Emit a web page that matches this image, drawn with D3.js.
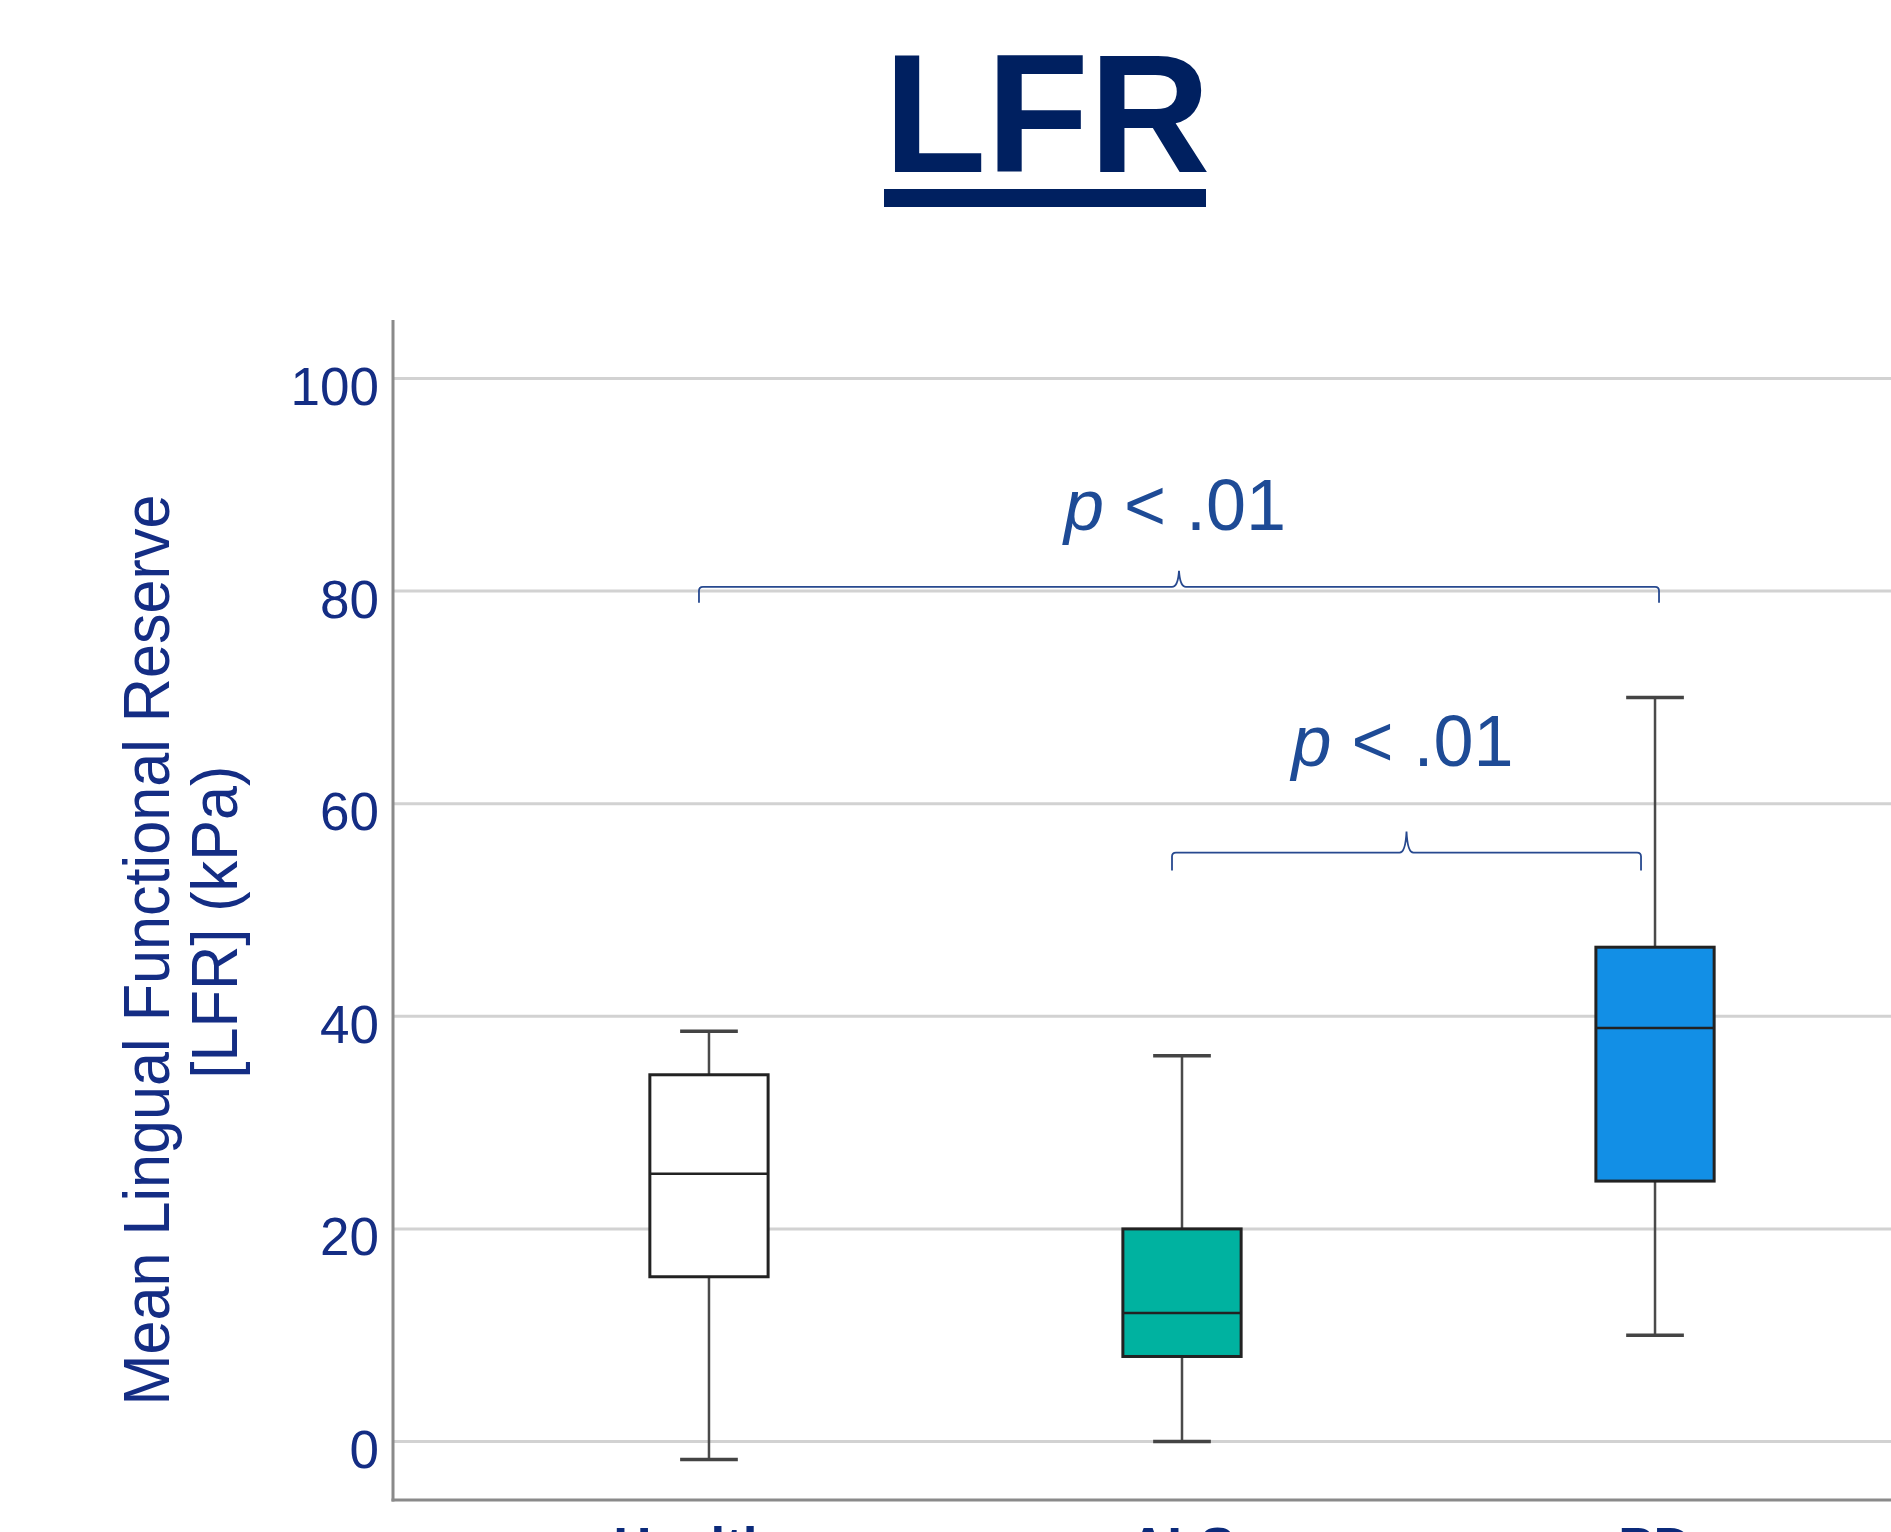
<!DOCTYPE html>
<html>
<head>
<meta charset="utf-8">
<script src="https://cdn.jsdelivr.net/npm/d3@7"></script>
<style>
  html, body { margin: 0; padding: 0; background: #ffffff; overflow: hidden; }
  svg { display: block; }
  text { font-family: "Liberation Sans", Arial, Helvetica, sans-serif; }
</style>
</head>
<body>
<svg id="chart" width="1891" height="1532"></svg>
<script>
// Groups and their five-number summaries (kPa)
const groups   = ["Healthy", "ALS", "PD"];
const lowerWhisker = [-1.7, 0.0, 10.0];
const q1           = [15.5, 8.0, 24.5];
const median       = [25.2, 12.1, 38.9];
const q3           = [34.5, 20.0, 46.5];
const upperWhisker = [38.6, 36.3, 70.0];
const fills        = ["#ffffff", "#00b2a0", "#128fe6"];

const yTicks = [0, 20, 40, 60, 80, 100];

// Pairwise comparisons drawn as braces above the boxes
const comparisons = [
  { from: "Healthy", to: "PD", level: 80.4, label: ".01", drop: 16, tip: 16, textRise: 57 },
  { from: "ALS",     to: "PD", level: 55.4, label: ".01", drop: 18, tip: 21, textRise: 87 }
];

const svg = d3.select("#chart");
const W = 1891, H = 1532;

const navy = "#002060";
const labelBlue = "#142d84";
const statBlue = "#1e4b96";

// Scales
const axisX = 393, axisBottom = 1500, axisTop = 320;
const y = d3.scaleLinear().domain([-5.5, 105.5]).range([axisBottom, axisTop]);
const x = d3.scalePoint().domain(groups).range([axisX, 1971]).padding(0.668);
const boxW = x.step() * 0.25;
const capW = x.step() * 0.122;

// Title
svg.append("text")
  .attr("x", 1047).attr("y", 172)
  .attr("text-anchor", "middle")
  .attr("font-size", 168).attr("font-weight", "bold")
  .attr("fill", navy)
  .text("LFR");
svg.append("rect")
  .attr("x", 884).attr("y", 189).attr("width", 322).attr("height", 18)
  .attr("fill", navy);

// Gridlines
svg.append("g").selectAll("line").data(yTicks).join("line")
  .attr("x1", axisX).attr("x2", W)
  .attr("y1", d => y(d)).attr("y2", d => y(d))
  .attr("stroke", "#d2d2d2").attr("stroke-width", 3);

// Y axis labels
const yAxis = svg.append("g")
  .attr("transform", `translate(${axisX},0)`)
  .call(d3.axisLeft(y).tickValues(yTicks).tickSize(0).tickPadding(14).tickFormat(d3.format("d")));
yAxis.select(".domain").remove();
yAxis.selectAll("text")
  .attr("font-size", 53)
  .attr("font-family", "'Liberation Sans', Arial, sans-serif")
  .attr("fill", labelBlue)
  .attr("dy", "0.49em");

// Axis lines
svg.append("line")
  .attr("x1", axisX).attr("x2", axisX).attr("y1", axisTop).attr("y2", axisBottom + 1.5)
  .attr("stroke", "#8a8a8a").attr("stroke-width", 3);
svg.append("line")
  .attr("x1", axisX - 1.5).attr("x2", W).attr("y1", axisBottom).attr("y2", axisBottom)
  .attr("stroke", "#8a8a8a").attr("stroke-width", 3);

// Y axis title (two lines)
svg.append("text")
  .attr("transform", "translate(169,950) rotate(-90)")
  .attr("text-anchor", "middle")
  .attr("font-size", 65)
  .attr("textLength", 911).attr("lengthAdjust", "spacingAndGlyphs")
  .attr("fill", labelBlue)
  .text("Mean Lingual Functional Reserve");
svg.append("text")
  .attr("transform", "translate(237,922) rotate(-90)")
  .attr("text-anchor", "middle")
  .attr("font-size", 65)
  .attr("textLength", 313).attr("lengthAdjust", "spacingAndGlyphs")
  .attr("fill", labelBlue)
  .text("[LFR] (kPa)");

// X axis category labels
svg.append("g").selectAll("text").data(groups).join("text")
  .attr("x", d => x(d)).attr("y", 1565)
  .attr("text-anchor", "middle")
  .attr("font-size", 53).attr("font-weight", "bold")
  .attr("fill", "#0b2a7a")
  .text(d => d);

// Box plots
const boxes = svg.append("g").selectAll("g").data(groups).join("g");

boxes.append("line") // whisker stem
  .attr("x1", d => x(d)).attr("x2", d => x(d))
  .attr("y1", (d, i) => y(upperWhisker[i])).attr("y2", (d, i) => y(lowerWhisker[i]))
  .attr("stroke", "#4a4a4a").attr("stroke-width", 2.5);

boxes.selectAll("line.cap")
  .data((d, i) => [upperWhisker[i], lowerWhisker[i]].map(v => ({ g: d, v })))
  .join("line").attr("class", "cap")
  .attr("x1", d => x(d.g) - capW / 2).attr("x2", d => x(d.g) + capW / 2)
  .attr("y1", d => y(d.v)).attr("y2", d => y(d.v))
  .attr("stroke", "#444").attr("stroke-width", 3.5);

boxes.append("rect")
  .attr("x", d => x(d) - boxW / 2)
  .attr("width", boxW)
  .attr("y", (d, i) => y(q3[i]))
  .attr("height", (d, i) => y(q1[i]) - y(q3[i]))
  .attr("fill", (d, i) => fills[i])
  .attr("stroke", "#222").attr("stroke-width", 3);

boxes.append("line") // median
  .attr("x1", d => x(d) - boxW / 2).attr("x2", d => x(d) + boxW / 2)
  .attr("y1", (d, i) => y(median[i])).attr("y2", (d, i) => y(median[i]))
  .attr("stroke", "#222").attr("stroke-width", 2.5);

// Significance braces
const brace = c => {
  const x1 = x(c.from) - 10, x2 = x(c.to) + (c.to === "PD" && c.from === "ALS" ? -14 : 4);
  const yl = y(c.level), xc = (x1 + x2) / 2, r = 4;
  return `M${x1},${yl + c.drop} L${x1},${yl + r} Q${x1},${yl} ${x1 + r},${yl}` +
         ` L${xc - 7},${yl} Q${xc - 1},${yl} ${xc},${yl - c.tip}` +
         ` Q${xc + 1},${yl} ${xc + 7},${yl} L${x2 - r},${yl}` +
         ` Q${x2},${yl} ${x2},${yl + r} L${x2},${yl + c.drop}`;
};
const stats = svg.append("g").selectAll("g").data(comparisons).join("g");
stats.append("path")
  .attr("d", brace)
  .attr("fill", "none").attr("stroke", "#27498f").attr("stroke-width", 1.8);
stats.append("text")
  .attr("x", c => {
    const x1 = x(c.from) - 10, x2 = x(c.to) + (c.to === "PD" && c.from === "ALS" ? -14 : 4);
    return (x1 + x2) / 2 - 4;
  })
  .attr("y", c => y(c.level) - c.textRise)
  .attr("text-anchor", "middle")
  .attr("font-size", 72)
  .attr("fill", statBlue)
  .call(t => {
    t.append("tspan").attr("font-style", "italic").text("p");
    t.append("tspan").text(c => " < " + c.label);
  });
</script>
</body>
</html>
